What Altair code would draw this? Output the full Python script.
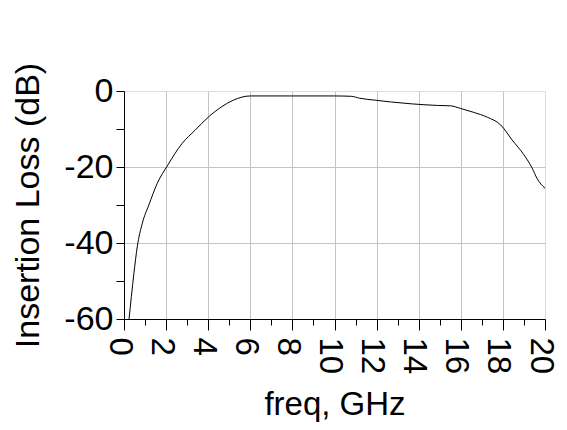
import altair as alt
import pandas as pd

freq_ghz = [0.24, 0.35, 0.47, 0.63, 0.87, 1.18, 1.58, 2.08, 2.76, 3.38, 4.02, 4.65,
            5.2, 6.0, 8.0, 10.0, 10.8, 11.2, 11.9, 12.7, 13.7, 14.9, 15.5, 16.0,
            16.6, 17.26, 17.89, 18.44, 19.0, 19.39, 19.62, 20.0]
loss_db = [-60.0, -54.1, -48.0, -41.0, -34.8, -30.0, -24.3, -19.5, -13.8, -10.3, -6.8, -4.1,
           -2.4, -1.3, -1.3, -1.3, -1.4, -1.9, -2.4, -2.9, -3.4, -3.8, -3.9, -4.6,
           -5.6, -6.9, -8.9, -12.9, -16.8, -20.3, -23.0, -25.6]

x_ticks = list(range(0, 21))
y_ticks = list(range(-60, 1, 10))

df = pd.DataFrame({"freq": freq_ghz, "loss": loss_db})

FONT = "Liberation Sans"

chart = alt.Chart(df).mark_line(
    color="black", strokeWidth=1, interpolate="monotone", clip=True
).encode(
    x=alt.X(
        "freq:Q",
        scale=alt.Scale(domain=[0, 20], nice=False, zero=False),
        axis=alt.Axis(
            title="freq, GHz",
            values=x_ticks,
            labelExpr="datum.value % 2 == 0 ? '' + datum.value : ''",
            labelAngle=90,
            labelFontSize=33,
            labelFont=FONT,
            labelColor="black",
            labelPadding=7,
            labelOffset=-5,
            labelOverlap=False,
            labelFlush=False,
            labelBound=False,
            tickSize={"condition": {"test": "datum.value % 2 == 0", "value": 11}, "value": 6},
            tickColor="black",
            gridOpacity={"condition": {"test": "datum.value % 2 == 0 && datum.value > 0 && datum.value < 20", "value": 1}, "value": 0},
            gridColor="#c4c4c4",
            domainColor="black",
            titleFontSize=33,
            titleFont=FONT,
            titleFontWeight="normal",
            titleColor="black",
            titlePadding=15,
        ),
    ),
    y=alt.Y(
        "loss:Q",
        scale=alt.Scale(domain=[-60, 0], nice=False, zero=False),
        axis=alt.Axis(
            title="Insertion Loss (dB)",
            values=y_ticks,
            labelExpr="datum.value % 20 == 0 ? '' + datum.value : ''",
            labelFontSize=34,
            labelFont=FONT,
            labelColor="black",
            labelPadding=3,
            labelFlush=False,
            labelOverlap=False,
            tickSize=8,
            tickColor="black",
            gridOpacity={"condition": {"test": "datum.value % 20 == 0 && datum.value > -60 && datum.value < 0", "value": 1}, "value": 0},
            gridColor="#c4c4c4",
            domainColor="black",
            titleFontSize=34,
            titleFont=FONT,
            titleFontWeight="normal",
            titleColor="black",
            titlePadding=18,
        ),
    ),
).properties(
    width=421,
    height=228,
    autosize=alt.AutoSizeParams(type="none"),
    padding={"left": 116, "top": 83, "right": 14, "bottom": 103},
).configure_view(
    stroke="#333333", strokeWidth=1
).configure(background="white")

chart.save("out.html", embed_options={"renderer": "svg", "actions": False})
